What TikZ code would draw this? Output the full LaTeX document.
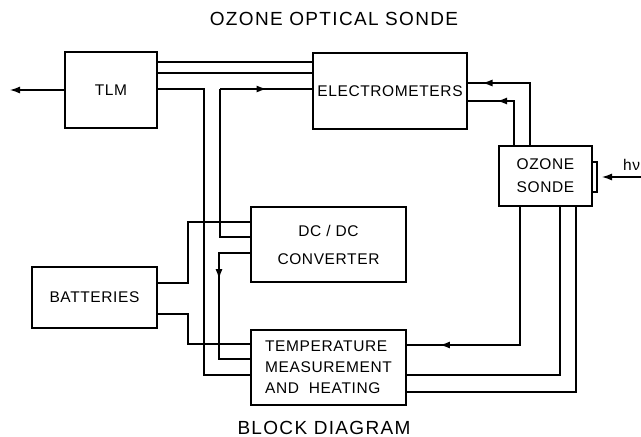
\documentclass[tikz,border=0pt]{standalone}
\usepackage{fontspec}
\newfontfamily\lblfont[LetterSpace=4]{Liberation Sans}
\newfontfamily\ttlfont[LetterSpace=7]{Liberation Sans}
\usetikzlibrary{arrows.meta,decorations.markings}

\begin{document}
\begin{tikzpicture}[x=1pt,y=-1pt,
    block/.style={draw, line width=1.4pt, inner sep=0pt, outer sep=0pt,
        font=\lblfont\fontsize{15.5}{21}\selectfont, align=center},
    wire/.style={line width=1.2pt},
    ttl/.style={font=\ttlfont\fontsize{19}{21}\selectfont, inner sep=0pt},
    tipat/.style={postaction={decorate}, decoration={markings,
        mark=at position #1 with {\arrow{Latex[length=10pt,width=7pt]}}}},
    ]
    \useasboundingbox (0,0) rectangle (641,437);

    % Titles
    \node[ttl] (title) at (334,18.5) {OZONE OPTICAL SONDE};
    \node[ttl] (caption) at (324,427.5) {BLOCK DIAGRAM};

    % Blocks
    \node[block, minimum width=92pt, minimum height=76pt] (tlm) at (111,90) {TLM};
    \node[block, minimum width=154pt, minimum height=76pt] (elec) at (390,91) {ELECTROMETERS};
    \node[block, minimum width=93pt, minimum height=60pt] (ozone) at (545.5,176) {OZONE\\[2pt]SONDE};
    \node[block, minimum width=155pt, minimum height=75pt] (dcdc) at (328.5,244.5) {DC / DC\\[7pt]CONVERTER};
    \node[block, minimum width=155pt, minimum height=75pt, align=left] (temp) at (328.5,367.5) {TEMPERATURE\\MEASUREMENT\\AND\ \ HEATING};
    \node[block, minimum width=125pt, minimum height=61pt] (batt) at (94.5,297.5) {BATTERIES};

    % TLM output
    \draw[wire, -{Latex[length=10pt,width=7pt]}] (tlm.west) -- ++(-55,0);

    % TLM links
    \draw[wire] (tlm.east |- 0,62) -- (elec.west |- 0,62);
    \draw[wire] (tlm.east |- 0,73) -- (elec.west |- 0,73);
    \draw[wire] (tlm.east |- 0,89) -| (204,375) -- (temp.west |- 0,375);

    % DC/DC links
    \draw[wire] (dcdc.west |- 0,237) -| (220,89);
    \draw[wire, tipat=0.5] (220,89) -- (elec.west |- 0,89);
    \draw[wire, tipat=58pt] (dcdc.west |- 0,253) -| (219,359) -- (temp.west |- 0,359);

    % Battery supply
    \draw[wire] (batt.east |- 0,283) -| (188,222) -- (dcdc.west |- 0,222);
    \draw[wire] (batt.east |- 0,314) -| (188,344) -- (temp.west |- 0,344);

    % Ozone sonde signals
    \draw[wire] (ozone.north -| 530,0) |- (498,83);
    \draw[wire, tipat=0.5] (498,83) -- (elec.east |- 0,83);
    \draw[wire] (ozone.north -| 514,0) |- (498,101);
    \draw[wire, tipat=0.03] (498,101) -- (elec.east |- 0,101);
    \draw[wire] (ozone.south -| 520,0) |- (441,345);
    \draw[wire, tipat=0.03] (441,345) -- (temp.east |- 0,345);
    \draw[wire] (ozone.south -| 560,0) |- (temp.east |- 0,375);
    \draw[wire] (ozone.south -| 576,0) |- (temp.east |- 0,392);

    % Light input
    \draw[wire] (ozone.east |- 0,162) -- (597,162) -- (597,192) -- (ozone.east |- 0,192);
    \coordinate (hvin) at (641,177);
    \node[font=\lblfont\fontsize{15.5}{17}\selectfont, anchor=west, inner sep=0pt] (hv) at (623,165) {hν};
    \draw[wire, -{Latex[length=10pt,width=7pt]}] (hvin) -- (602,177);
\end{tikzpicture}
\end{document}
